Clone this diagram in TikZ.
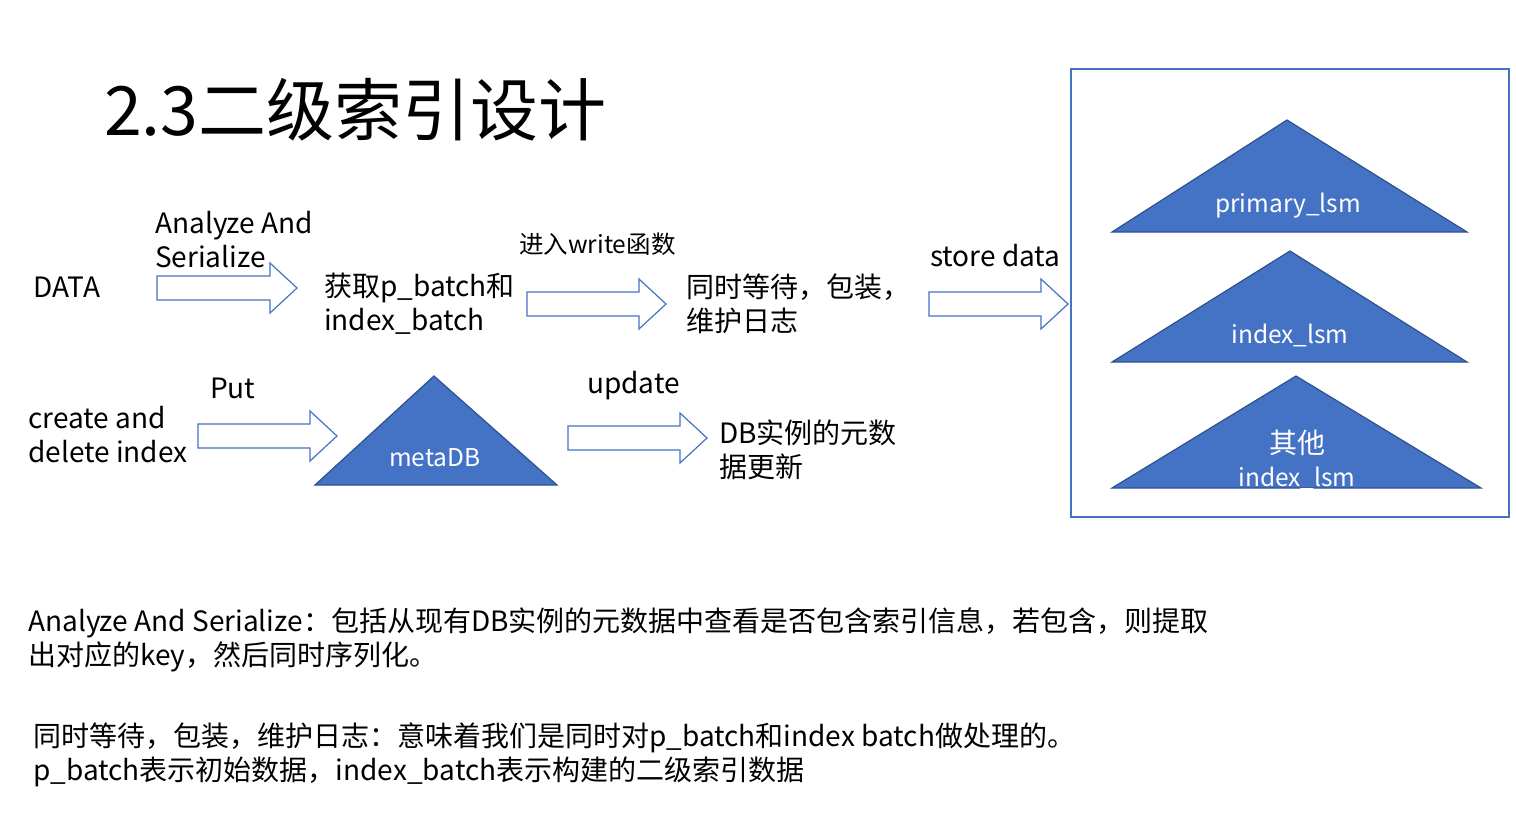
\documentclass[tikz,border=0pt]{standalone}
\usepackage{fontspec}
\setmainfont{Noto Sans CJK SC}
\usetikzlibrary{positioning}
\definecolor{lsmblue}{HTML}{4472C4}
\definecolor{lsmedge}{HTML}{2F528F}
\tikzset{
  txt/.style={anchor=west,align=left,inner sep=0pt,font=\fontsize{28}{34}\selectfont},
  small/.style={anchor=west,inner sep=0pt,font=\fontsize{24.5}{28}\selectfont},
  tri/.style={fill=lsmblue,draw=lsmedge,line width=1.2pt},
  trilabel/.style={text=white,inner sep=0pt,font=\fontsize{24.5}{30}\selectfont},
  hollow/.style={draw=lsmblue,fill=white,line width=1.2pt}
}
% hollow arrow: left x, right x, centre y
\newcommand{\harrow}[3]{%
  \draw[hollow] (#1,#3-12) -- (#2-27,#3-12) -- (#2-27,#3-25) -- (#2,#3)
    -- (#2-27,#3+25) -- (#2-27,#3+12) -- (#1,#3+12) -- cycle;}
\begin{document}
\begin{tikzpicture}[x=1pt,y=-1pt]
  \useasboundingbox (0,0) rectangle (1516,831);

  \node[anchor=west,inner sep=0pt,font=\fontsize{68}{70}\selectfont] (title) at (104,110) {2.3二级索引设计};

  % upper row
  \node[txt] (data) at (33,287) {DATA};
  \node[txt] (ana) at (155,240) {Analyze And\\Serialize};
  \harrow{157}{297}{288}
  \node[txt] (batch) at (324,304) {获取p\_batch和\\index\_batch};
  \node[small] (write) at (519,244) {进入write函数};
  \harrow{527}{666}{304}
  \node[txt] (wait) at (686,304) {同时等待，包装，\\维护日志};
  \node[txt] (store) at (930,256) {store data};
  \harrow{929}{1068}{304}

  % storage box
  \draw[lsmblue,line width=1.2pt] (1071,69) rectangle (1509,517);
  \draw[tri] (1287,120) -- (1467,232) -- (1112,232) -- cycle;
  \node[trilabel] (plsm) at (1288,206) {primary\_lsm};
  \draw[tri] (1290,251) -- (1467,362) -- (1112,362) -- cycle;
  \node[trilabel] (ilsm) at (1290,335) {index\_lsm};
  \draw[tri] (1296,376) -- (1481,488) -- (1112,488) -- cycle;
  \node[trilabel,font=\fontsize{28}{30}\selectfont] (other) at (1297,443) {其他};
  \node[trilabel] (olsm) at (1297,478) {index\_lsm};

  % lower row
  \node[txt] (cre) at (28,435) {create and\\delete index};
  \node[txt] (put) at (210,388) {Put};
  \harrow{198}{337}{436}
  \draw[tri] (434,376) -- (557,485) -- (315,485) -- cycle;
  \node[trilabel] (meta) at (435,458) {metaDB};
  \node[txt] (upd) at (587,386) {update};
  \harrow{568}{707}{438}
  \node[txt] (dbupd) at (719,450) {DB实例的元数\\据更新};

  % notes
  \node[txt] (note1) at (28,640) {Analyze And Serialize：包括从现有DB实例的元数据中查看是否包含索引信息，若包含，则提取\\出对应的key，然后同时序列化。};
  \node[txt] (note2) at (33,755) {同时等待，包装，维护日志：意味着我们是同时对p\_batch和index batch做处理的。\\p\_batch表示初始数据，index\_batch表示构建的二级索引数据};
\end{tikzpicture}
\end{document}
